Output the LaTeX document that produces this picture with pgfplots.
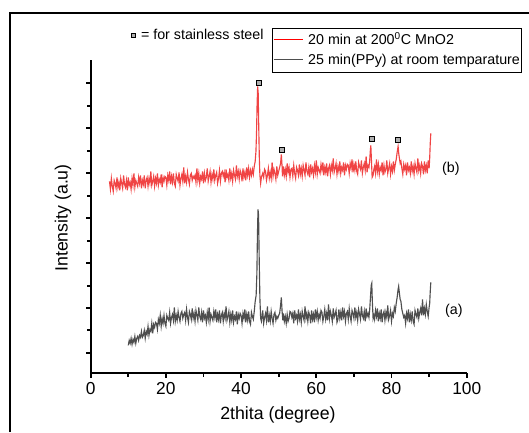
\documentclass[border=0pt]{standalone}
\usepackage{fontspec}
\setmainfont{Liberation Sans}
\usepackage{pgfplots}
\pgfplotsset{compat=1.18}
\definecolor{xrdred}{RGB}{240,68,68}
\definecolor{xrdgray}{RGB}{78,78,78}
\definecolor{sqfill}{RGB}{175,175,175}
\begin{document}
\begin{tikzpicture}
\begin{axis}[
    scale only axis,
    width=282pt, height=235pt,
    xmin=0, xmax=100, ymin=0, ymax=313.3,
    axis lines*=left,
    axis line style={line width=1.5pt},
    tick style={line width=1.3pt, black},
    tick align=outside,
    major tick length=3.4pt, minor tick length=2.4pt,
    xtick={0,20,40,60,80,100},
    minor xtick={10,30,50,70,90},
    ytick={20.6,65.6,110.6,155,200,245,290},
    minor ytick={43.3,87.6,132.6,177.6,222.6,267.6},
    yticklabels={},
    /pgf/number format/assume math mode=true,
    ticklabel style={font=\fontsize{13}{15}\selectfont},
    xlabel={2thita (degree)},
    ylabel={Intensity (a.u)},
    label style={font=\fontsize{13.3}{16}\selectfont},
    xlabel style={at={(axis description cs:0.498,-0.133)}, anchor=center},
    ylabel style={at={(axis description cs:-0.0738,0.496)}, anchor=center},
    clip=false,
]
\addplot[xrdred, line width=0.85pt] coordinates {
(5.00,192)(5.25,184)(5.50,195)(5.75,187)(6.00,182)(6.25,193)(6.50,190)(6.75,185)(7.00,196)(7.25,186)
(7.50,191)(7.75,183)(8.00,195)(8.25,190)(8.50,185)(8.75,198)(9.00,189)(9.25,186)(9.50,193)(9.75,183)
(10.00,196)(10.25,188)(10.50,191)(10.75,184)(11.00,195)(11.25,188)(11.50,200)(11.75,186)(12.00,193)(12.25,190)
(12.50,187)(12.75,196)(13.00,190)(13.25,198)(13.50,185)(13.75,193)(14.00,189)(14.25,198)(14.50,185)(14.75,193)
(15.00,196)(15.25,187)(15.50,195)(15.75,190)(16.00,202)(16.25,188)(16.50,192)(16.75,197)(17.00,187)(17.25,195)
(17.50,190)(17.75,200)(18.00,188)(18.25,194)(18.50,191)(18.75,199)(19.00,186)(19.25,196)(19.50,192)(19.75,197)
(20.00,196)(20.25,188)(20.50,198)(20.75,193)(21.00,202)(21.25,189)(21.50,197)(21.75,191)(22.00,200)(22.25,190)
(22.50,187)(22.75,199)(23.00,195)(23.25,192)(23.50,201)(23.75,188)(24.00,195)(24.25,199)(24.50,192)(24.75,206)
(25.00,190)(25.25,197)(25.50,191)(25.75,201)(26.00,194)(26.25,189)(26.50,198)(26.75,200)(27.00,193)(27.25,197)
(27.50,195)(27.75,198)(28.00,191)(28.25,205)(28.50,193)(28.75,200)(29.00,190)(29.25,197)(29.50,194)(29.75,202)
(30.00,190)(30.25,200)(30.50,193)(30.75,196)(31.00,205)(31.25,192)(31.50,197)(31.75,202)(32.00,191)(32.25,199)
(32.50,194)(32.75,204)(33.00,193)(33.25,198)(33.50,201)(33.75,190)(34.00,195)(34.25,203)(34.50,192)(34.75,200)
(35.00,202)(35.25,197)(35.50,201)(35.75,191)(36.00,204)(36.25,196)(36.50,199)(36.75,193)(37.00,205)(37.25,195)
(37.50,200)(37.75,192)(38.00,203)(38.25,198)(38.50,194)(38.75,208)(39.00,197)(39.25,202)(39.50,194)(39.75,203)
(40.00,200)(40.25,192)(40.50,205)(40.75,196)(41.00,201)(41.25,193)(41.50,206)(41.75,198)(42.00,205)(42.25,196)
(42.50,203)(42.75,198)(43.00,204)(43.25,199)(43.50,207)(43.75,212)(43.95,222)(44.10,240)(44.25,268)(44.40,287)
(44.55,280)(44.70,245)(44.85,215)(45.00,198)(45.20,190)(45.40,196)
(45.75,200)(46.00,196)(46.25,204)(46.50,202)(46.75,193)(47.00,198)(47.25,205)(47.50,195)(47.75,201)(48.00,195)
(48.25,211)(48.50,197)(48.75,204)(49.00,200)(49.25,194)(49.50,207)(49.75,198)(50.00,202)(50.25,206)(50.50,210)
(50.70,219)(50.90,207)(51.00,197)(51.25,207)(51.50,198)(51.75,204)(52.00,197)(52.25,210)(52.50,201)(52.75,206)
(53.00,196)(53.25,204)
(53.50,205)(53.75,197)(54.00,208)(54.25,200)(54.50,195)(54.75,206)(55.00,203)(55.25,198)(55.50,209)(55.75,199)
(56.00,205)(56.25,197)(56.50,208)(56.75,203)(57.00,198)(57.25,211)(57.50,202)(57.75,199)(58.00,206)(58.25,196)
(58.50,209)(58.75,201)(59.00,205)(59.25,198)(59.50,208)(59.75,201)(60.00,213)(60.25,199)(60.50,206)(60.75,203)
(61.00,200)(61.25,209)(61.50,203)(61.75,211)(62.00,198)(62.25,206)(62.50,201)(62.75,210)(63.00,197)(63.25,205)
(63.50,208)(63.75,199)(64.00,208)(64.25,203)(64.50,215)(64.75,201)(65.00,205)(65.25,210)(65.50,199)(65.75,207)
(66.00,202)(66.25,212)(66.50,200)(66.75,206)(67.00,203)(67.25,211)(67.50,198)(67.75,208)(68.00,204)(68.25,209)
(68.50,208)(68.75,200)(69.00,210)(69.25,205)(69.50,214)(69.75,201)(70.00,209)(70.25,203)(70.50,212)(70.75,202)
(71.00,199)(71.25,211)(71.50,207)(71.75,204)(72.00,213)(72.25,200)(72.50,206)(72.75,210)(73.00,203)(73.25,217)
(73.50,201)(73.75,208)(74.00,206)(74.20,213)(74.35,222)(74.50,228)(74.65,214)(74.85,196)(75.10,198)(75.30,204)
(75.50,207)(75.75,200)(76.00,214)(76.25,202)(76.50,209)(76.75,199)(77.00,206)(77.25,203)(77.50,211)(77.75,198)
(78.00,208)(78.25,201)(78.50,204)(78.75,213)(79.00,200)(79.25,205)(79.50,210)(79.75,199)(80.00,207)(80.25,202)
(80.50,212)(80.75,203)(81.00,209)(81.25,214)(81.50,221)(81.75,227)(81.95,219)(82.10,215)(82.30,210)(82.50,212)
(82.75,205)(83.00,199)
(83.25,209)(83.50,204)(83.75,208)(84.00,198)(84.25,211)(84.50,203)(84.75,206)(85.00,200)(85.25,212)(85.50,202)
(85.75,207)(86.00,199)(86.25,210)(86.50,205)(86.75,201)(87.00,215)(87.25,203)(87.50,208)(87.75,200)(88.00,210)
(88.25,207)(88.50,199)(88.75,212)(89.00,203)(89.25,208)(89.50,200)(89.75,213)(90.00,205)(90.15,215)(90.30,230)
(90.45,240)
};
\addplot[xrdgray, line width=0.85pt] coordinates {
(10.00,28)(10.25,33)(10.50,30)(10.75,35)(11.00,29)(11.25,34)(11.50,31)(11.75,37)(12.00,30)(12.25,35)
(12.50,37)(12.75,33)(13.00,38)(13.25,36)(13.50,42)(13.75,36)(14.00,38)(14.25,43)(14.50,35)(14.75,42)
(15.00,39)(15.25,47)(15.50,38)(15.75,44)(16.00,42)(16.25,50)(16.50,40)(16.75,49)(17.00,46)(17.25,51)
(17.50,50)(17.75,44)(18.00,54)(18.25,50)(18.50,58)(18.75,47)(19.00,55)(19.25,50)(19.50,58)(19.75,50)
(20.00,47)(20.25,58)(20.50,55)(20.75,53)(21.00,61)(21.25,50)(21.50,56)(21.75,59)(22.00,53)(22.25,66)
(22.50,52)(22.75,58)(23.00,53)(23.25,62)(23.50,56)(23.75,52)(24.00,60)(24.25,62)(24.50,55)(24.75,59)
(25.00,61)(25.25,53)(25.50,64)(25.75,56)(26.00,51)(26.25,62)(26.50,59)(26.75,54)(27.00,65)(27.25,55)
(27.50,60)(27.75,52)(28.00,63)(28.25,58)(28.50,53)(28.75,66)(29.00,57)(29.25,54)(29.50,61)(29.75,51)
(30.00,63)(30.25,55)(30.50,58)(30.75,51)(31.00,61)(31.25,54)(31.50,66)(31.75,52)(32.00,59)(32.25,56)
(32.50,53)(32.75,62)(33.00,56)(33.25,64)(33.50,51)(33.75,59)(34.00,54)(34.25,63)(34.50,50)(34.75,58)
(35.00,61)(35.25,52)(35.50,60)(35.75,55)(36.00,67)(36.25,53)(36.50,57)(36.75,62)(37.00,51)(37.25,59)
(37.50,53)(37.75,63)(38.00,51)(38.25,57)(38.50,54)(38.75,62)(39.00,49)(39.25,59)(39.50,55)(39.75,60)
(40.00,58)(40.25,50)(40.50,60)(40.75,55)(41.00,64)(41.25,51)(41.50,59)(41.75,53)(42.00,62)(42.25,52)
(42.50,49)(42.75,61)(43.00,57)(43.25,54)(43.50,62)(43.75,72)(44.00,78)(44.20,100)(44.35,140)(44.50,164)
(44.65,158)(44.80,118)(45.00,75)(45.20,55)(45.40,52)(45.60,58)
(45.75,63)(46.00,50)(46.25,56)(46.50,60)(46.75,53)(47.00,67)(47.25,51)(47.50,58)(47.75,52)(48.00,62)
(48.25,55)(48.50,50)(48.75,59)(49.00,61)(49.25,53)(49.50,57)(49.75,55)(50.00,58)(50.25,60)(50.50,68)
(50.70,76)(50.90,62)(51.10,53)(51.25,60)(51.50,52)(51.75,57)(52.00,50)(52.25,59)(52.50,52)(52.75,55)
(53.00,62)
(53.25,61)(53.50,56)(53.75,60)(54.00,50)(54.25,63)(54.50,55)(54.75,58)(55.00,52)(55.25,64)(55.50,54)
(55.75,59)(56.00,51)(56.25,62)(56.50,57)(56.75,53)(57.00,67)(57.25,55)(57.50,60)(57.75,52)(58.00,61)
(58.25,58)(58.50,50)(58.75,63)(59.00,54)(59.25,59)(59.50,51)(59.75,64)(60.00,56)(60.25,62)(60.50,53)
(60.75,59)(61.00,55)(61.25,63)(61.50,61)(61.75,52)(62.00,57)(62.25,64)(62.50,54)(62.75,60)(63.00,53)
(63.25,69)(63.50,55)(63.75,62)(64.00,58)(64.25,52)(64.50,65)(64.75,56)(65.00,59)(65.25,63)(65.50,51)
(65.75,54)(66.00,64)(66.25,55)(66.50,61)(66.75,53)(67.00,66)(67.25,57)(67.50,62)(67.75,52)(68.00,60)
(68.25,62)(68.50,54)(68.75,65)(69.00,57)(69.25,52)(69.50,63)(69.75,60)(70.00,55)(70.25,66)(70.50,56)
(70.75,61)(71.00,53)(71.25,64)(71.50,59)(71.75,54)(72.00,67)(72.25,58)(72.50,55)(72.75,62)(73.00,52)
(73.25,65)(73.50,57)(73.75,60)(74.00,56)(74.20,64)(74.40,76)(74.60,88)(74.75,90)(74.90,72)(75.10,55)
(75.30,58)(75.50,54)(75.75,63)(76.00,57)(76.25,65)(76.50,52)(76.75,60)(77.00,55)(77.25,64)(77.50,51)
(77.75,59)(78.00,62)(78.25,53)(78.50,61)(78.75,56)(79.00,68)(79.25,54)(79.50,58)(79.75,63)(80.00,52)
(80.25,60)(80.50,57)(80.75,66)(81.00,62)(81.25,70)(81.50,76)(81.75,84)(81.90,87)(82.10,80)(82.30,74)
(82.50,72)(82.75,64)(83.00,60)(83.25,56)
(83.50,58)(83.75,50)(84.00,60)(84.25,55)(84.50,64)(84.75,51)(85.00,59)(85.25,53)(85.50,62)(85.75,52)
(86.00,49)(86.25,63)(86.50,59)(86.75,56)(87.00,65)(87.25,55)(87.50,61)(87.75,65)(88.00,58)(88.25,74)
(88.50,58)(88.75,65)(89.00,59)(89.25,69)(89.50,62)(89.75,57)(90.00,66)(90.15,70)(90.30,82)(90.45,91)
};
\addplot[only marks, mark=square*, mark size=2pt,
    mark options={fill=sqfill, draw=black, line width=0.6pt}] coordinates {
(44.76,290.6)(50.88,223.6)(74.80,234.6)(81.70,233.3)
};
\node[font=\fontsize{10.7}{12.5}\selectfont] at (axis cs:95.77,205) {(b)};
\node[font=\fontsize{10.7}{12.5}\selectfont] at (axis cs:96.57,63) {(a)};
% legend box
\node[draw=black, line width=0.6pt, anchor=north west, inner xsep=1.2pt, inner ysep=1.6pt,
      font=\fontsize{10.7}{13}\selectfont] at (axis description cs:0.481,1.101) {%
  \renewcommand{\arraystretch}{1.15}%
  \begin{tabular}{@{}l@{}}
  {\color{red}\rule[3.3pt]{22pt}{1.1pt}}\hspace{4pt}20 min at 200\textsuperscript{0}C MnO2\\
  {\color{xrdgray}\rule[3.3pt]{22pt}{1.1pt}}\hspace{4pt}25 min(PPy) at room temparature
  \end{tabular}};
\end{axis}
\node[anchor=west, inner sep=0pt, font=\fontsize{10.7}{12.5}\selectfont] at (30pt,254.5pt)
  {\setlength{\fboxsep}{0pt}\setlength{\fboxrule}{0.6pt}\raisebox{1.6pt}{\fcolorbox{black}{sqfill}{\rule{0pt}{2.6pt}\rule{2.6pt}{0pt}}}\hspace{0.35em}= for stainless steel};
\draw[line width=1.2pt] (-60.5pt,-44pt) -- (-60.5pt,270.2pt) -- (328.7pt,270.2pt);
\pgfresetboundingbox
\path[use as bounding box] (-68pt,-44pt) rectangle (328.7pt,280pt);
\end{tikzpicture}
\end{document}
